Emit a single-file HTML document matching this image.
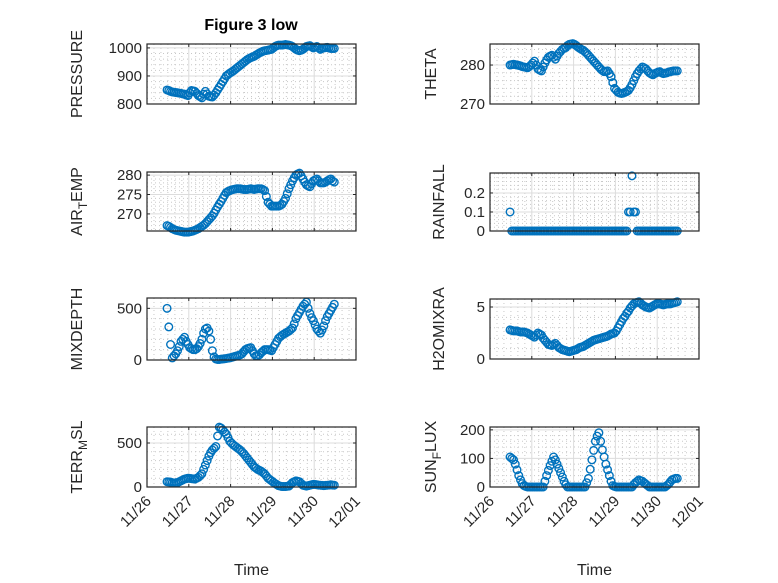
<!DOCTYPE html>
<html><head><meta charset="utf-8"><style>
html,body{margin:0;padding:0;background:#fff;}
svg{display:block;font-family:"Liberation Sans","DejaVu Sans",sans-serif;}
</style></head><body>
<svg id="fig" width="778" height="583" viewBox="0 0 778 583" xmlns="http://www.w3.org/2000/svg">
<rect width="778" height="583" fill="#fff"/>
<text x="251" y="30" text-anchor="middle" font-size="16" font-weight="bold" fill="#000">Figure 3 low</text>
</svg>
<script>
// time: days since 11/26 00:00, hourly samples from tStart to tEnd
const tStart = 0.48, tEnd = 4.48;
const dayLabels = ["11/26","11/27","11/28","11/29","11/30","12/01"];
const pressure = [850,848,845,843,842,841,840,839,838,836,835,832,830,840,848,847,845,838,830,826,822,835,845,836,828,826,825,832,840,850,860,870,880,890,900,905,910,914,918,923,928,933,938,943,948,953,958,962,965,968,970,974,978,982,985,988,990,991,992,994,995,1000,1005,1008,1010,1010,1010,1011,1012,1011,1010,1008,1005,1000,995,992,990,992,995,1000,1005,1007,1008,1004,1000,1003,1005,1000,995,998,1000,1001,1002,1000,998,998,998];
const theta = [280,280.1,280.2,280.1,280,279.9,279.8,279.6,279.5,279.4,279.3,279.6,280,280.5,281,280,279,278.7,278.5,279.5,280.5,281.3,282,282.3,282.5,282,281.5,282.3,283,283.5,284,284.3,284.5,285,285.3,285.4,285.5,285.3,285,284.6,284.3,284,283.8,283.4,283,282.5,282,281.5,281,280.5,280,279.5,279,278.6,278.3,278.4,278.5,277.8,277,275.5,274,273.5,273,272.8,272.7,272.8,273,273.2,273.5,274.2,275,276,277,277.8,278.5,279,279.5,279.3,279,278.5,278,277.7,277.5,277.8,278,278.2,278.3,278,277.8,277.9,278,278.2,278.3,278.4,278.5,278.5,278.5];
const airTemp = [267,266.8,266.5,266.2,266,265.8,265.7,265.6,265.5,265.4,265.3,265.3,265.3,265.4,265.5,265.6,265.8,266,266.2,266.5,266.8,267.1,267.5,268,268.5,269,269.5,270.2,271,271.8,272.5,273.2,274,274.8,275.5,275.8,276,276.2,276.3,276.4,276.5,276.5,276.5,276.4,276.3,276.3,276.3,276.4,276.5,276.4,276.3,276.4,276.5,276.5,276.5,276.3,276,274.5,273,272.5,272,272,272,272,272,272.2,272.5,273.2,274,275.2,276.5,277.5,278.5,279.3,280,280.3,280.5,279.8,279,278.2,277.5,277.2,277,277.8,278.5,278.8,279,278.5,278,278,278,278.2,278.5,278.8,279,278.5,278.2];
const rainfall = [0.1,0,0,0,0,0,0,0,0,0,0,0,0,0,0,0,0,0,0,0,0,0,0,0,0,0,0,0,0,0,0,0,0,0,0,0,0,0,0,0,0,0,0,0,0,0,0,0,0,0,0,0,0,0,0,0,0,0,0,0,0,0,0,0,0,0,0,0,0.1,0.1,0.29,0.1,0.1,0,0,0,0,0,0,0,0,0,0,0,0,0,0,0,0,0,0,0,0,0,0,0,0];
const mixDepth = [500,320,150,20,40,60,90,130,180,200,220,180,150,120,110,100,100,110,130,160,200,260,300,310,280,200,90,30,10,5,5,8,10,12,15,18,20,25,30,35,40,45,50,60,80,100,110,115,120,90,60,40,40,50,70,85,100,100,100,95,90,120,150,180,210,225,240,250,260,270,280,295,310,350,400,430,460,490,520,540,560,500,450,410,380,340,300,280,260,290,330,380,420,450,480,510,540];
const h2oMix = [2.8,2.75,2.7,2.7,2.7,2.65,2.6,2.6,2.6,2.55,2.5,2.4,2.3,2.2,2.1,2.3,2.5,2.4,2.3,2.0,1.8,1.6,1.4,1.35,1.3,1.4,1.5,1.3,1.1,1.0,0.9,0.85,0.8,0.75,0.7,0.75,0.8,0.85,0.9,1.0,1.1,1.15,1.2,1.3,1.4,1.5,1.6,1.7,1.8,1.85,1.9,1.95,2.0,2.05,2.1,2.15,2.2,2.3,2.4,2.45,2.5,2.7,3.0,3.3,3.6,3.9,4.1,4.4,4.6,4.9,5.1,5.3,5.4,5.45,5.5,5.35,5.2,5.1,5.0,4.95,4.9,5.0,5.1,5.2,5.3,5.3,5.3,5.25,5.2,5.25,5.3,5.3,5.3,5.35,5.4,5.45,5.5];
const terrMsl = [60,58,55,50,45,48,50,60,70,80,90,95,100,98,95,92,90,100,110,130,150,200,250,300,350,390,420,440,460,580,680,670,650,625,600,560,520,500,480,465,450,435,420,400,380,355,330,305,280,255,230,215,200,190,180,165,150,125,100,85,70,55,40,28,15,10,5,5,5,8,10,30,50,60,70,65,60,40,20,15,10,15,20,25,30,28,25,22,20,18,15,18,20,22,25,22,20];
const sunFlux = [105,100,95,80,60,40,25,12,5,2,0,0,0,0,0,0,0,0,0,0,20,40,58,75,90,105,95,80,65,50,35,20,8,0,0,0,0,0,0,0,0,0,0,0,15,30,62,95,128,160,178,190,160,130,105,80,60,40,20,5,2,0,0,0,0,0,0,0,0,0,0,8,15,20,25,22,20,15,10,5,0,0,0,0,0,0,0,0,0,0,5,10,18,25,28,30,30];
const pressureTicks = [800,900,1000];
const thetaTicks = [270,280];
const airTicks = [270,275,280];
const rainTicks = [0,0.1,0.2];
const mixTicks = [0,500];
const h2oTicks = [0,5];
const terrTicks = [0,500];
const sunTicks = [0,100,200];

const NS = "http://www.w3.org/2000/svg";
const svg = document.getElementById("fig");
function mk(tag, attrs, parent){
  const e = document.createElementNS(NS, tag);
  for (const k in attrs) e.setAttribute(k, attrs[k]);
  (parent||svg).appendChild(e);
  return e;
}
const panels = [
 {name:"pressure", data:pressure, ticks:pressureTicks, ymin:800, ymax:1014, minor:20, x0:147, y0:44, y1:104, label:["PRESSURE"], lx:82, showX:false},
 {name:"theta", data:theta, ticks:thetaTicks, ymin:270, ymax:285.4, minor:2, x0:490, y0:44, y1:104, label:["THETA"], lx:436, showX:false},
 {name:"air-temp", data:airTemp, ticks:airTicks, ymin:265.6, ymax:280.8, minor:1, x0:147, y0:172, y1:231, label:["AIR","T","EMP"], lx:82, showX:false},
 {name:"rainfall", data:rainfall, ticks:rainTicks, ymin:0, ymax:0.305, minor:0.02, x0:490, y0:173, y1:231, label:["RAINFALL"], lx:444, showX:false},
 {name:"mixdepth", data:mixDepth, ticks:mixTicks, ymin:0, ymax:600, minor:100, x0:147, y0:298, y1:360, label:["MIXDEPTH"], lx:82, showX:false},
 {name:"h2omixra", data:h2oMix, ticks:h2oTicks, ymin:0, ymax:5.77, minor:1, x0:490, y0:299, y1:359, label:["H2OMIXRA"], lx:444, showX:false},
 {name:"terr-msl", data:terrMsl, ticks:terrTicks, ymin:0, ymax:682, minor:100, x0:147, y0:427, y1:487, label:["TERR","M","SL"], lx:82, showX:true},
 {name:"sun-flux", data:sunFlux, ticks:sunTicks, ymin:0, ymax:210, minor:20, x0:490, y0:427, y1:487, label:["SUN","F","LUX"], lx:436, showX:true}
];
const W = 209, dayW = W/5;
panels.forEach(p=>{
  const g = mk("g",{});
  
  
  const xS = t => p.x0 + t*dayW;
  const yS = v => p.y1 - (v - p.ymin)/(p.ymax - p.ymin)*(p.y1 - p.y0);
  mk("rect",{x:p.x0,y:p.y0,width:W,height:p.y1-p.y0,fill:"#fff"},g);
  for (let k=0;k<=30;k++){ if(k%6===0) continue; const x=xS(k/6);
    mk("line",{x1:x,x2:x,y1:p.y0,y2:p.y1,stroke:"#c8c8c8","stroke-width":1,"stroke-dasharray":"1,3"},g); }
  const nMin = Math.ceil(p.ymin/p.minor - 1e-9);
  for (let v=nMin*p.minor; v<=p.ymax+1e-9; v+=p.minor){ const y=yS(v);
    if (p.ticks.some(t=>Math.abs(t-v)<1e-6)) continue;
    mk("line",{x1:p.x0,x2:p.x0+W,y1:y,y2:y,stroke:"#c8c8c8","stroke-width":1,"stroke-dasharray":"1,3"},g); }
  for (let d=1; d<5; d++){ const x=xS(d);
    mk("line",{x1:x,x2:x,y1:p.y0,y2:p.y1,stroke:"#dcdcdc","stroke-width":1},g); }
  p.ticks.forEach(v=>{ const y=yS(v);
    mk("line",{x1:p.x0,x2:p.x0+W,y1:y,y2:y,stroke:"#dcdcdc","stroke-width":1},g);
    mk("line",{x1:p.x0,x2:p.x0+3,y1:y,y2:y,stroke:"#262626","stroke-width":1},g);
    mk("line",{x1:p.x0+W,x2:p.x0+W-3,y1:y,y2:y,stroke:"#262626","stroke-width":1},g);
    const tl = mk("text",{x:p.x0-5,y:y+5,"text-anchor":"end","font-size":15,fill:"#262626"},g);
    
    
    tl.textContent = String(v);
  });
  for (let d=0; d<=5; d++){ const x=xS(d);
    mk("line",{x1:x,x2:x,y1:p.y1,y2:p.y1-3,stroke:"#262626","stroke-width":1},g);
    mk("line",{x1:x,x2:x,y1:p.y0,y2:p.y0+3,stroke:"#262626","stroke-width":1},g);
    if (p.showX){
      const tx = mk("text",{x:x+5,y:p.y1+15,"text-anchor":"end","font-size":15,fill:"#262626",transform:`rotate(-45 ${x+5} ${p.y1+15})`},g);
      
      
      tx.textContent = dayLabels[d];
    }
  }
  const n = p.data.length;
  p.data.forEach((v,i)=>{
    const t = tStart + i*(tEnd - tStart)/(n-1);
    const c = mk("circle",{cx:xS(t),cy:yS(v),r:3.8,fill:"none",stroke:"#0072BD","stroke-width":1.4},g);
    
    
  });
  mk("rect",{x:p.x0,y:p.y0,width:W,height:p.y1-p.y0,fill:"none",stroke:"#262626","stroke-width":1.2},g);
  const cy = (p.y0+p.y1)/2;
  const yl = mk("text",{x:p.lx,y:cy,"text-anchor":"middle","font-size":16,fill:"#262626",transform:`rotate(-90 ${p.lx} ${cy})`},g);
  
  
  if (p.label.length===1) yl.textContent = p.label[0];
  else {
    const a = mk("tspan",{},yl); a.textContent=p.label[0];
    const b = mk("tspan",{dy:5,"font-size":12},yl); b.textContent=p.label[1];
    const c = mk("tspan",{dy:-5},yl); c.textContent=p.label[2];
  }
  if (p.showX){
    const xt = mk("text",{x:p.x0+W/2,y:575,"text-anchor":"middle","font-size":16,fill:"#262626"},g);
    
    
    xt.textContent = "Time";
  }
});
</script>
</body></html>
